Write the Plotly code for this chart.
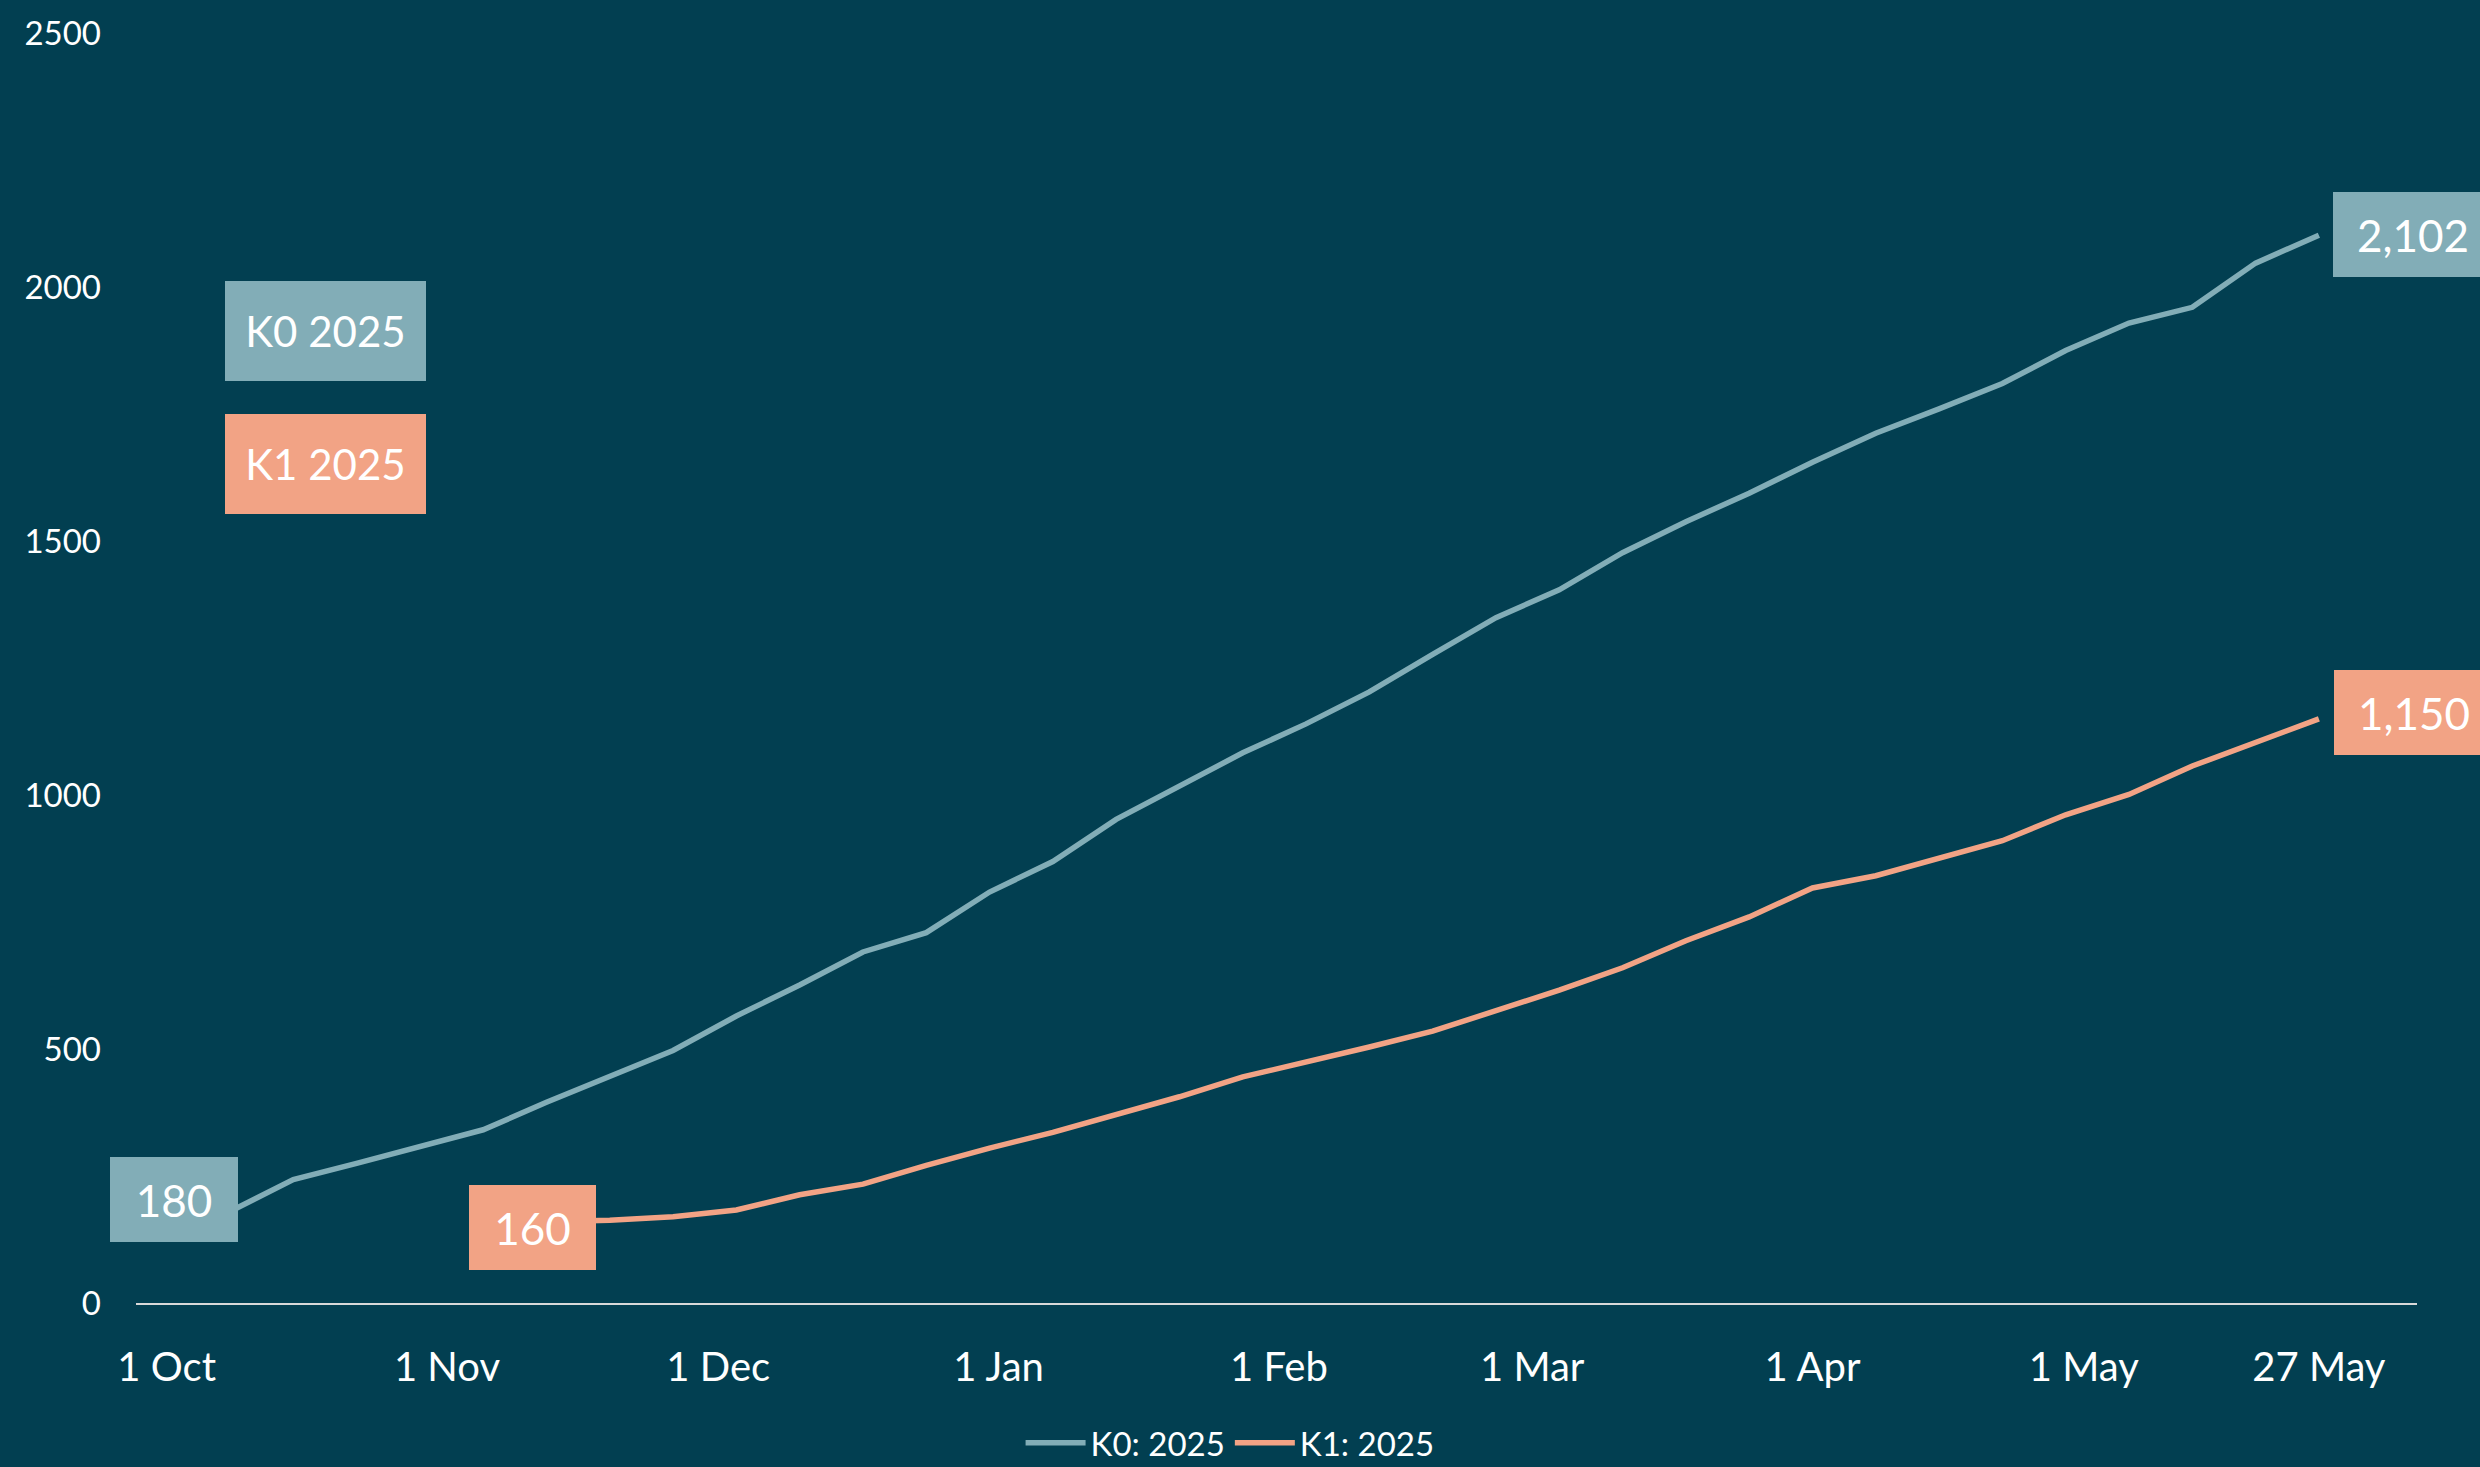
import plotly.graph_objects as go
import pandas as pd

# ---------------- data ----------------
dates = pd.date_range("2024-10-08", "2025-05-27", freq="7D")

k0_values = [180, 243, 275, 308, 341, 395, 447, 497, 565, 626,
             691, 729, 809, 869, 952, 1016, 1083, 1140, 1203, 1277,
             1349, 1404, 1477, 1538, 1594, 1655, 1712, 1760, 1810, 1875,
             1929, 1960, 2047, 2102]

k1_start = 5  # K1 series starts at the 6th week
k1_values = [160, 163, 170, 183, 213, 234, 271, 305, 336, 372,
             406, 445, 474, 504, 535, 575, 616, 660, 713, 760,
             817, 841, 876, 910, 961, 1001, 1057, 1103, 1150]

series_names = ["K0: 2025", "K1: 2025"]
box_titles = ["K0 2025", "K1 2025"]

tick_dates = ["2024-10-01", "2024-11-01", "2024-12-01", "2025-01-01", "2025-02-01",
              "2025-03-01", "2025-04-01", "2025-05-01", "2025-05-27"]
tick_labels = ["1 Oct", "1 Nov", "1 Dec", "1 Jan", "1 Feb", "1 Mar", "1 Apr", "1 May", "27 May"]

y_ticks = [0, 500, 1000, 1500, 2000, 2500]

# ---------------- style ----------------
BG = "#023F51"
C0 = "#82ADB7"
C1 = "#F2A385"
FONT = "Lato"

k1_dates = dates[k1_start:k1_start + len(k1_values)]

fig = go.Figure()
fig.add_trace(go.Scatter(x=dates, y=k0_values, mode="lines", name=series_names[0],
                         line=dict(color=C0, width=5.5)))
fig.add_trace(go.Scatter(x=k1_dates, y=k1_values, mode="lines", name=series_names[1],
                         line=dict(color=C1, width=5.5)))

def value_box(x, y, val, color, anchor, xshift, yshift, w):
    fig.add_annotation(x=x, y=y, xref="x", yref="y", text=f"{val:,}", showarrow=False,
                       xanchor=anchor, yanchor="middle", xshift=xshift, yshift=yshift,
                       bgcolor=color, width=w, height=85, borderpad=0, borderwidth=0,
                       font=dict(family=FONT, size=44, color="white"), align="center")

# start / end labels
value_box(dates[0], k0_values[0], k0_values[0], C0, "right", 8, 12, 128)
value_box(k1_dates[0], k1_values[0], k1_values[0], C1, "right", 50, -6, 127)
value_box(dates[-1], k0_values[-1], k0_values[-1], C0, "left", 14, 1, 160)
value_box(k1_dates[-1], k1_values[-1], k1_values[-1], C1, "left", 15, 6, 160)

# series title boxes
for title, color, ypos in [(box_titles[0], C0, 0.7651), (box_titles[1], C1, 0.6604)]:
    fig.add_annotation(x=0.0831, y=ypos, xref="paper", yref="paper", text=title,
                       showarrow=False, xanchor="center", yanchor="middle",
                       bgcolor=color, width=201, height=100, borderpad=0, borderwidth=0,
                       font=dict(family=FONT, size=42, color="white"))

fig.update_layout(
    width=2480, height=1467, autosize=False,
    paper_bgcolor=BG, plot_bgcolor=BG,
    margin=dict(l=136, r=63, t=28, b=164),
    font=dict(family=FONT, color="white"),
    showlegend=True,
    legend=dict(orientation="h", xref="container", yref="container",
                x=0.496, xanchor="center", y=0.0165, yanchor="middle",
                font=dict(family=FONT, size=33, color="white"),
                bgcolor="rgba(0,0,0,0)", itemwidth=60, tracegroupgap=0),
    xaxis=dict(type="date", range=["2024-09-27 14:38", "2025-06-06 20:24"],
               tickmode="array", tickvals=tick_dates, ticktext=tick_labels,
               showgrid=False, zeroline=False, showline=True,
               linecolor="#D9D9D9", linewidth=2, ticks="",
               tickfont=dict(family=FONT, size=40, color="white"),
               ticklabelstandoff=28),
    yaxis=dict(range=[0, 2500], tickmode="array", tickvals=y_ticks,
               ticktext=[str(v) for v in y_ticks],
               showgrid=False, zeroline=False, showline=False, ticks="",
               tickfont=dict(family=FONT, size=33, color="white"),
               ticklabelstandoff=34),
)

fig.write_html("out.html")
